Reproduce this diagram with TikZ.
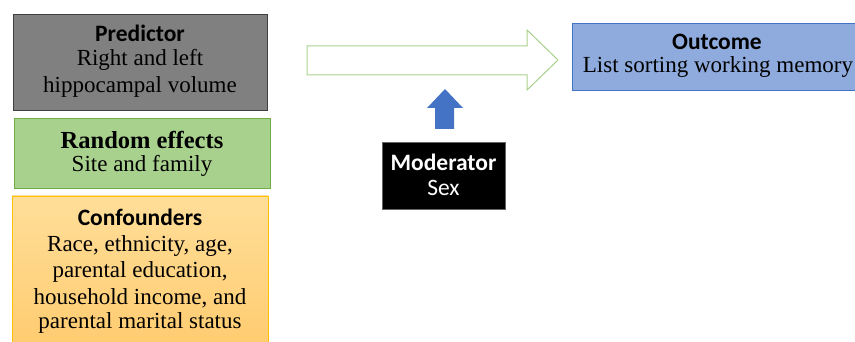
\documentclass[tikz,border=0pt]{standalone}
\usepackage{fontspec}
\setmainfont{Liberation Serif}
\newfontfamily\hdfont{Carlito}
\definecolor{predfill}{HTML}{808080}
\definecolor{predline}{HTML}{404040}
\definecolor{randfill}{HTML}{A9D18E}
\definecolor{randline}{HTML}{70AD47}
\definecolor{confa}{HTML}{FFDE99}
\definecolor{confb}{HTML}{FFCC70}
\definecolor{confline}{HTML}{FFC000}
\definecolor{outfill}{HTML}{8FAADC}
\definecolor{outline}{HTML}{4472C4}
\definecolor{arrline}{HTML}{A9D18E}
\definecolor{modarrow}{HTML}{4472C4}
\begin{document}
\begin{tikzpicture}[x=1pt,y=-1pt,
  box/.style={draw, line width=0.8pt},
  hd/.style={font=\hdfont\bfseries\fontsize{23.5}{28}\selectfont, inner sep=0pt, anchor=center},
  bd/.style={font=\fontsize{23}{26}\selectfont, inner sep=0pt, anchor=center, align=center}]
\useasboundingbox (0,0) rectangle (855,342);
% Predictor
\draw[box, fill=predfill, draw=predline] (13,14) rectangle (267,110);
\node[hd] (predh) at (140,33) {Predictor};
\node[bd] (predb1) at (140,60) {Right and left};
\node[bd] (predb2) at (140,87) {hippocampal volume};
% Random effects
\draw[box, fill=randfill, draw=randline] (14,118) rectangle (270,188);
\node[bd, font=\bfseries\fontsize{24.5}{28}\selectfont] (randh) at (142,140) {Random effects};
\node[bd] (randb) at (142,166) {Site and family};
% Confounders
\shade[top color=confa, bottom color=confb] (12,196) rectangle (268,345);
\draw[box, draw=confline] (12,345) -- (12,196) -- (268,196) -- (268,345);
\node[hd] (confh) at (140,217) {Confounders};
\node[bd] (confb1) at (140,246) {Race, ethnicity, age,};
\node[bd] (confb2) at (140,272) {parental education,};
\node[bd] (confb3) at (140,298) {household income, and};
\node[bd] (confb4) at (140,323) {parental marital status};
% Hollow arrow
\draw[draw=arrline, fill=white, line width=1pt, line join=miter]
  (307,46) -- (527,46) -- (527,30) -- (558,60) -- (527,90) -- (527,75) -- (307,75) -- cycle;
% Outcome
\draw[box, fill=outfill, draw=outline] (572,23) rectangle (858,90);
\node[hd] (outh) at (717,42) {Outcome};
\node[bd] (outb) at (718,67) {List sorting working memory};
% Moderator
\node[draw=black!60, fill=black, minimum width=123pt, minimum height=67pt, inner sep=0pt] (mod) at (443.5,175.5) {};
\node[hd, text=white] (modh) at (443.5,162) {Moderator};
\node[font=\hdfont\fontsize{23.5}{28}\selectfont, text=white, inner sep=0pt] (modb) at (443.5,188) {Sex};
% Blue up arrow
\fill[modarrow] (435,129) -- (435,108) -- (427,108) -- (445,89) -- (463,108) -- (454,108) -- (454,129) -- cycle;
\end{tikzpicture}
\end{document}
